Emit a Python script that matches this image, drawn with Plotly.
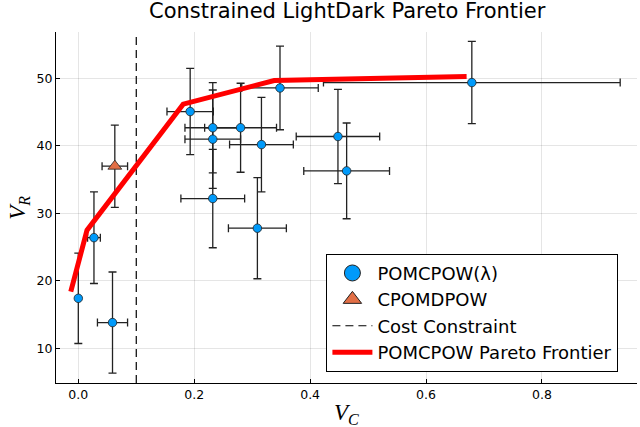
import plotly.graph_objects as go

# POMCPOW(lambda) sweep: mean cost, mean reward, and error bars
pomcpow_vc = [0.000, 0.027, 0.059, 0.193, 0.232, 0.232, 0.232, 0.280, 0.316, 0.348, 0.309, 0.448, 0.463, 0.679]
pomcpow_vr = [17.4, 26.4, 13.8, 45.1, 42.7, 41.0, 32.2, 42.7, 40.2, 48.6, 27.8, 41.4, 36.3, 49.4]
pomcpow_vc_err = [0.000, 0.011, 0.026, 0.040, 0.048, 0.048, 0.055, 0.062, 0.055, 0.066, 0.050, 0.072, 0.074, 0.256]
pomcpow_vr_err = [6.7, 6.8, 7.5, 6.4, 6.7, 7.3, 7.3, 6.6, 7.0, 6.2, 7.5, 7.0, 7.1, 6.1]

# CPOMDPOW result
cpomdpow_vc = [0.063]
cpomdpow_vr = [37.0]
cpomdpow_vc_err = [0.022]
cpomdpow_vr_err = [6.1]

# Pareto frontier
frontier_vc = [-0.013, 0.015, 0.181, 0.338, 0.670]
frontier_vr = [18.4, 27.5, 46.2, 49.7, 50.3]

cost_budget = 0.1

x_range = [-0.0385, 0.964]
y_range = [4.84, 56.9]

blue = "#009AFA"
orange = "#E26F46"

fig = go.Figure()

err_style = dict(color="#222222", thickness=1.3, width=4)

fig.add_trace(go.Scatter(
    x=pomcpow_vc, y=pomcpow_vr, mode="markers", showlegend=False,
    marker=dict(color=blue, size=8.5, line=dict(color="#222222", width=0.8)),
    error_x=dict(type="data", array=pomcpow_vc_err, **err_style),
    error_y=dict(type="data", array=pomcpow_vr_err, **err_style),
))
fig.add_trace(go.Scatter(
    x=cpomdpow_vc, y=cpomdpow_vr, mode="markers", showlegend=False,
    marker=dict(color=orange, size=12, symbol="triangle-up",
                line=dict(color="#222222", width=0.8)),
    error_x=dict(type="data", array=cpomdpow_vc_err, **err_style),
    error_y=dict(type="data", array=cpomdpow_vr_err, **err_style),
))
fig.add_trace(go.Scatter(
    x=[cost_budget, cost_budget], y=y_range, mode="lines", showlegend=False,
    line=dict(color="black", width=1.2, dash="8px,5px"),
))
fig.add_trace(go.Scatter(
    x=frontier_vc, y=frontier_vr, mode="lines", showlegend=False,
    line=dict(color="#FF0000", width=5),
))

# legend entries (bigger symbols than on the plot, like the original)
fig.add_trace(go.Scatter(
    x=[None], y=[None], mode="markers", name="POMCPOW(λ)",
    marker=dict(color=blue, size=16, line=dict(color="#222222", width=1)),
))
fig.add_trace(go.Scatter(
    x=[None], y=[None], mode="markers", name="CPOMDPOW",
    marker=dict(color=orange, size=16, symbol="triangle-up",
                line=dict(color="#222222", width=1)),
))
fig.add_trace(go.Scatter(
    x=[None], y=[None], mode="lines", name="Cost Constraint",
    line=dict(color="black", width=1.2, dash="8px,5px"),
))
fig.add_trace(go.Scatter(
    x=[None], y=[None], mode="lines", name="POMCPOW Pareto Frontier",
    line=dict(color="#FF0000", width=5),
))

axis_common = dict(
    showline=True, linecolor="black", linewidth=1, mirror=False,
    ticks="inside", ticklen=4, tickcolor="black", tickwidth=1,
    showgrid=True, gridcolor="rgba(0,0,0,0.1)", gridwidth=0.6,
    zeroline=False, automargin=False,
    tickfont=dict(family="DejaVu Sans", size=12.5, color="black"),
)

label_font = dict(family="Liberation Serif", size=23, color="black")

fig.update_layout(
    width=640, height=427,
    margin=dict(l=56, r=3, t=32, b=44),
    paper_bgcolor="white", plot_bgcolor="white",
    xaxis=dict(range=x_range, tickvals=[0.0, 0.2, 0.4, 0.6, 0.8],
               ticktext=["0.0", "0.2", "0.4", "0.6", "0.8"], **axis_common),
    yaxis=dict(range=y_range, tickvals=[10, 20, 30, 40, 50], **axis_common),
    legend=dict(x=0.968, y=0.032, xanchor="right", yanchor="bottom",
                bgcolor="white", bordercolor="black", borderwidth=1,
                font=dict(family="DejaVu Sans", size=18, color="black"),
                tracegroupgap=0, itemwidth=40),
    annotations=[
        dict(text="Constrained LightDark Pareto Frontier", xref="paper", yref="paper",
             x=0.502, y=1.059, xanchor="center", yanchor="middle", showarrow=False,
             font=dict(family="DejaVu Sans", size=21, color="black")),
        dict(text="<i>V</i><sub><i>C</i></sub>", xref="paper", yref="paper",
             x=0.5, y=-0.043, xanchor="center", yanchor="top", showarrow=False,
             font=label_font),
        dict(text="<i>V</i><sub><i>R</i></sub>", xref="paper", yref="paper",
             x=-0.065, y=0.5, xanchor="center", yanchor="middle", showarrow=False,
             textangle=-90, font=label_font),
    ],
)

# drop the default 8px body margin so the figure sits at the window corner
fig.write_html("out.html", config={"displayModeBar": False},
               post_script="document.body.style.margin='0';")
